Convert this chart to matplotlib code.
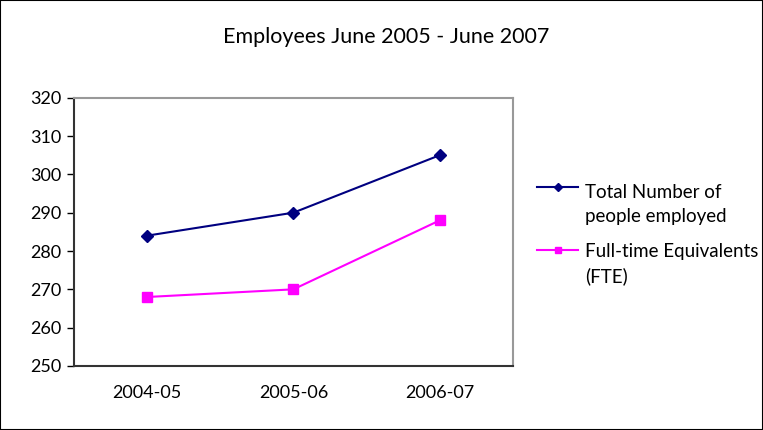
import matplotlib.pyplot as plt
from matplotlib.lines import Line2D
from matplotlib.patches import Rectangle

# data
years = ["2004-05", "2005-06", "2006-07"]
total_employed = [284, 290, 305]
fte = [268, 270, 288]
y_ticks = [250, 260, 270, 280, 290, 300, 310, 320]
labels = ["Total Number of\npeople employed", "Full-time Equivalents\n(FTE)"]
colors = ['#000080', '#FF00FF']
markers = ['D', 's']

plt.rcParams['font.family'] = ['Lato', 'DejaVu Sans']

fig = plt.figure(figsize=(7.63, 4.30), dpi=100)
W, H = 763, 430
ax = fig.add_axes([73.7 / W, 1 - 366 / H, (513 - 73.7) / W, (366 - 97.7) / H])

x = list(range(len(years)))
ax.plot(x, total_employed, color=colors[0], marker=markers[0], markersize=6,
        linewidth=1.5)
ax.plot(x, fte, color=colors[1], marker=markers[1], markersize=6.5,
        linewidth=1.5)

ax.set_xlim(-0.5, 2.5)
ax.set_ylim(250, 320)
ax.set_yticks(y_ticks)
ax.set_xticks(x)
ax.set_xticklabels(years)
ax.tick_params(axis='y', direction='out', length=5, width=1, labelsize=13, pad=4)
ax.tick_params(axis='x', length=0, labelsize=13, pad=14)

for side in ['top', 'right']:
    ax.spines[side].set_color('#999999')
    ax.spines[side].set_linewidth(1.5)
for side in ['left', 'bottom']:
    ax.spines[side].set_color('#333333')
    ax.spines[side].set_linewidth(1.5)

fig.text(386 / W, 1 - 37 / H, "Employees June 2005 - June 2007",
         ha='center', va='center', fontsize=15.5)

# legend drawn by hand so the key sits level with the first text line
handle_y = [187, 250]
text_y = [204.5, 264]
for lab, c, m, hy, ty in zip(labels, colors, markers, handle_y, text_y):
    fig.add_artist(Line2D([537 / W, 578 / W], [1 - hy / H, 1 - hy / H],
                          transform=fig.transFigure, color=c, linewidth=1.5))
    fig.add_artist(Line2D([557.5 / W], [1 - hy / H], transform=fig.transFigure,
                          color=c, marker=m, markersize=4.5 if m == 'D' else 5,
                          linestyle='none'))
    fig.text(585 / W, 1 - ty / H, lab, ha='left', va='center',
             fontsize=13.5, linespacing=1.5)

# outer chart border
fig.patches.append(Rectangle((0, 0), 1, 1, transform=fig.transFigure,
                             fill=False, edgecolor='black', linewidth=1.5))

fig.savefig("out.png", dpi=100)
